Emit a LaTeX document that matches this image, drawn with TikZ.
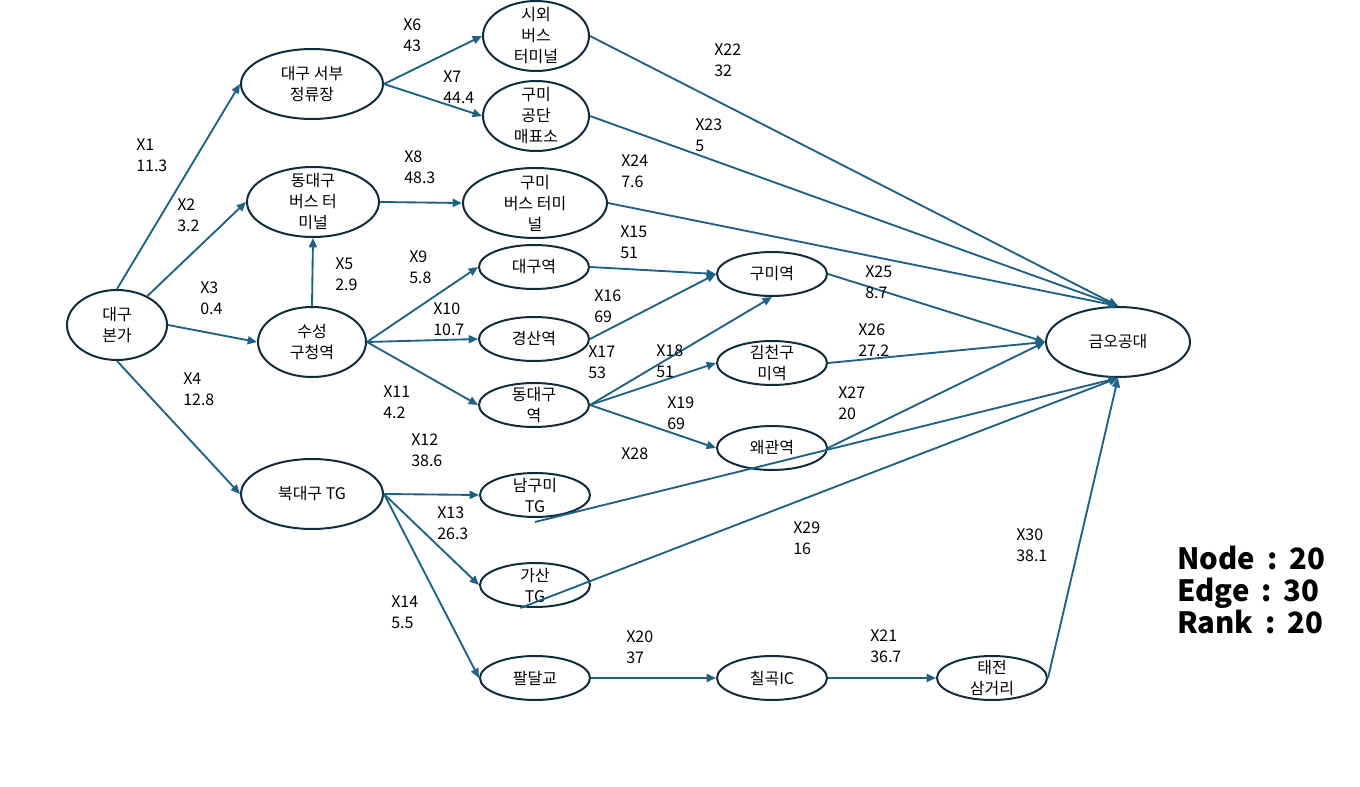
\documentclass[tikz,border=0pt]{standalone}
\usepackage{fontspec}
\setmainfont{Noto Sans CJK KR}
\newfontfamily\statfont{Noto Sans CJK KR}
\usetikzlibrary{shapes.geometric,arrows.meta}
\definecolor{edgec}{HTML}{1F6185}
\definecolor{ellc}{HTML}{102C3C}
\begin{document}
\begin{tikzpicture}[x=0.75pt,y=-0.75pt,
 ell/.style={ellipse, draw=ellc, line width=1.5pt, inner sep=0pt, minimum width=82.5pt, minimum height=33pt},
 big/.style={minimum height=52.5pt},
 txt/.style={font=\fontsize{12}{15.75}\selectfont, align=center, inner sep=0pt},
 lab/.style={font=\fontsize{12}{15.75}\selectfont, align=left, inner sep=0pt, anchor=north west},
 conn/.style={draw=edgec, line width=1.4pt, -{Triangle[length=7pt,width=6pt]}},
 stat/.style={font=\statfont\bfseries\fontsize{22}{22}\selectfont, anchor=base west, inner sep=0pt, text height=16pt, text depth=0pt}
]
\useasboundingbox (0,0) rectangle (1360,787);
% ellipses
\node[ell,big,minimum width=75pt] (bg) at (117,325) {};
\node[ell,big,minimum width=106.5pt] (ws) at (312,84) {};
\node[ell,big,minimum width=99pt] (dt) at (313,202) {};
\node[ell,big,minimum width=81pt] (sc) at (312,342) {};
\node[ell,big,minimum width=106.5pt] (bd) at (312,494) {};
\node[ell,big,minimum width=79.5pt] (sw) at (536,36) {};
\node[ell,big,minimum width=79.5pt] (gg) at (536,116) {};
\node[ell,big,minimum width=108pt] (gb) at (535,203) {};
\node[ell] (dg) at (534,267) {};
\node[ell] (gs) at (534,339) {};
\node[ell] (dd) at (534,405) {};
\node[ell] (ng) at (535,495) {};
\node[ell] (gt) at (535,585) {};
\node[ell] (pd) at (535,678) {};
\node[ell] (cg) at (772,678) {};
\node[ell] (tj) at (992,678) {};
\node[ell] (gm) at (772,274) {};
\node[ell] (gc) at (772,363) {};
\node[ell] (wg) at (772,448) {};
\node[ell,big,minimum width=108pt] (ko) at (1118,342) {};
% texts
\node[txt] (bgT) at (bg) {대구\\본가};
\node[txt] (wsT) at (ws) {대구 서부\\정류장};
\node[txt] (dtT) at (dt) {동대구\\버스 터\\미널};
\node[txt] (scT) at (sc) {수성\\구청역};
\node[txt] (bdT) at (bd) {북대구 TG};
\node[txt] (swT) at (sw) {시외\\버스\\터미널};
\node[txt] (ggT) at (gg) {구미\\공단\\매표소};
\node[txt] (gbT) at (gb) {구미\\버스 터미\\널};
\node[txt] (dgT) at (dg) {대구역};
\node[txt] (gsT) at (gs) {경산역};
\node[txt] (ddT) at (dd) {동대구\\역};
\node[txt] (ngT) at (ng) {남구미\\TG};
\node[txt] (gtT) at (gt) {가산\\TG};
\node[txt] (pdT) at (pd) {팔달교};
\node[txt] (cgT) at (cg) {칠곡IC};
\node[txt] (tjT) at (tj) {태전\\삼거리};
\node[txt] (gmT) at (gm) {구미역};
\node[txt] (gcT) at (gc) {김천구\\미역};
\node[txt] (wgT) at (wg) {왜관역};
\node[txt] (koT) at (ko) {금오공대};
% connectors
\draw[conn] (bg.north) -- (ws.west);
\draw[conn] (bg) -- (dt.west);
\draw[conn] (bg.east) -- (sc.west);
\draw[conn] (bg.south) -- (bd.west);
\draw[conn] (sc.north) -- (dt.south);
\draw[conn] (ws.east) -- (sw.west);
\draw[conn] (ws.east) -- (gg.west);
\draw[conn] (dt.east) -- (gb.west);
\draw[conn] (sc.east) -- (dg.west);
\draw[conn] (sc.east) -- (gs.west);
\draw[conn] (sc.east) -- (dd.west);
\draw[conn] (bd.east) -- (ng.west);
\draw[conn] (bd.east) -- (gt.west);
\draw[conn] (bd.east) -- (pd.west);
\draw[conn] (dg.east) -- (gm.west);
\draw[conn] (gs.east) -- (gm.west);
\draw[conn] (dd.east) -- (gm.south);
\draw[conn] (dd.east) -- (gc.west);
\draw[conn] (dd.east) -- (wg.west);
\draw[conn] (pd.east) -- (cg.west);
\draw[conn] (cg.east) -- (tj.west);
\draw[conn] (sw.east) -- (ko.north);
\draw[conn] (gg.east) -- (ko.north);
\draw[conn] (gb.east) -- (ko.north);
\draw[conn] (gm.east) -- (ko.west);
\draw[conn] (gc.east) -- (ko.west);
\draw[conn] (wg.east) -- (ko.west);
\draw[conn] ([yshift=-3pt]ng.south) -- (ko.south);
\draw[conn] ([xshift=-11pt]gt.south) -- (ko.south);
\draw[conn] (tj.east) -- (ko.south);
% edge labels
\node[lab] (l1) at (136,139) {X1\\11.3};
\node[lab] (l2) at (177,199) {X2\\3.2};
\node[lab] (l3) at (200,282) {X3\\0.4};
\node[lab] (l4) at (183,373) {X4\\12.8};
\node[lab] (l5) at (335,258) {X5\\2.9};
\node[lab] (l6) at (403,19) {X6\\43};
\node[lab] (l7) at (443,71) {X7\\44.4};
\node[lab] (l8) at (404,151) {X8\\48.3};
\node[lab] (l9) at (409,251) {X9\\5.8};
\node[lab] (l10) at (433,303) {X10\\10.7};
\node[lab] (l11) at (383,386) {X11\\4.2};
\node[lab] (l12) at (411,434) {X12\\38.6};
\node[lab] (l13) at (437,507) {X13\\26.3};
\node[lab] (l14) at (391,596) {X14\\5.5};
\node[lab] (l15) at (620,226) {X15\\51};
\node[lab] (l16) at (594,290) {X16\\69};
\node[lab] (l17) at (588,346) {X17\\53};
\node[lab] (l18) at (656,345) {X18\\51};
\node[lab] (l19) at (667,397) {X19\\69};
\node[lab] (l20) at (626,631) {X20\\37};
\node[lab] (l21) at (870,630) {X21\\36.7};
\node[lab] (l22) at (714,44) {X22\\32};
\node[lab] (l23) at (695,119) {X23\\5};
\node[lab] (l24) at (621,155) {X24\\7.6};
\node[lab] (l25) at (865,266) {X25\\8.7};
\node[lab] (l26) at (858,324) {X26\\27.2};
\node[lab] (l27) at (838,387) {X27\\20};
\node[lab] (l28) at (621,448) {X28};
\node[lab] (l29) at (793,522) {X29\\16};
\node[lab] (l30) at (1016,529) {X30\\38.1};
% stats
\node[stat] (s1) at (1177,569) {Node\hspace{9pt}:\hspace{9pt}20};
\node[stat] (s2) at (1177,601) {Edge\hspace{9pt}:\hspace{9pt}30};
\node[stat] (s3) at (1177,633) {Rank\hspace{9pt}:\hspace{9pt}20};
\end{tikzpicture}
\end{document}
